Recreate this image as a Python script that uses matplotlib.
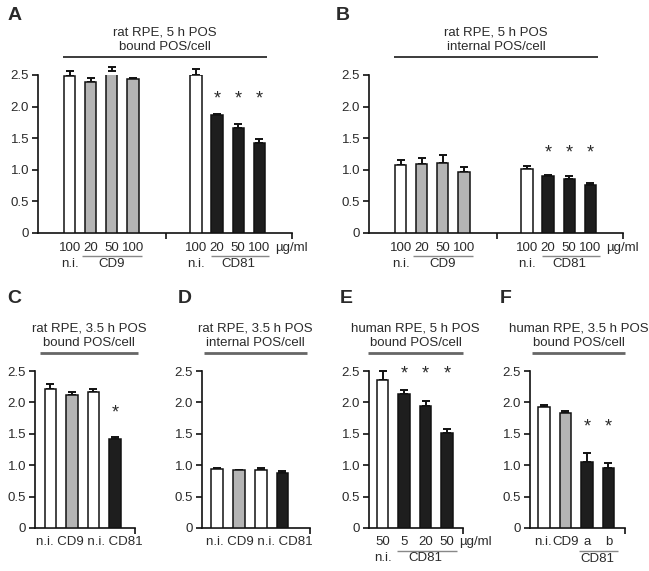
import matplotlib
matplotlib.use('Agg')
import matplotlib.pyplot as plt
from matplotlib.transforms import offset_copy

plt.rcParams['font.family'] = ['Liberation Sans', 'DejaVu Sans']
plt.rcParams['font.size'] = 9.5

W, H = 649, 571
TXT = '#2a2a2a'
EDGE = '#111111'
FILL = {'ni': 'white', 'CD9': '#b4b4b4', 'CD81': '#1e1e1e'}

# ---- data ----
a_kind = ['ni', 'CD9', 'CD9', 'CD9', 'ni', 'CD81', 'CD81', 'CD81']
a_dose = ['100', '20', '50', '100', '100', '20', '50', '100']
a_star = [0, 0, 0, 0, 0, 1, 1, 1]
a_vals = [2.48, 2.39, 2.56, 2.43, 2.50, 1.86, 1.66, 1.43]
a_err = [0.08, 0.06, 0.07, 0.03, 0.10, 0.03, 0.07, 0.05]

b_vals = [1.08, 1.09, 1.11, 0.97, 1.01, 0.90, 0.85, 0.76]
b_err = [0.07, 0.10, 0.13, 0.07, 0.05, 0.01, 0.05, 0.03]

cd_kind = ['ni', 'CD9', 'ni', 'CD81']
cd_labels = ['n.i.', 'CD9', 'n.i.', 'CD81']
c_star = [0, 0, 0, 1]
c_vals = [2.21, 2.12, 2.16, 1.41]
c_err = [0.08, 0.05, 0.05, 0.04]
d_star = [0, 0, 0, 0]
d_vals = [0.94, 0.92, 0.92, 0.88]
d_err = [0.01, 0.01, 0.03, 0.02]

e_kind = ['ni', 'CD81', 'CD81', 'CD81']
e_dose = ['50', '5', '20', '50']
e_star = [0, 1, 1, 1]
e_vals = [2.36, 2.13, 1.94, 1.51]
e_err = [0.14, 0.06, 0.08, 0.07]

f_kind = ['ni', 'CD9', 'CD81', 'CD81']
f_labels = ['n.i.', 'CD9', 'a', 'b']
f_star = [0, 0, 1, 1]
f_vals = [1.92, 1.83, 1.05, 0.96]
f_err = [0.04, 0.04, 0.15, 0.08]

yticks = [0, 0.5, 1.0, 1.5, 2.0, 2.5]
ylabels = ['0', '0.5', '1.0', '1.5', '2.0', '2.5']

fig = plt.figure(figsize=(W / 100, H / 100), dpi=100)


def make_ax(l, r, t, b, xlim, xt):
    ax = fig.add_axes([l / W, 1 - b / H, (r - l) / W, (b - t) / H])
    ax.set_xlim(*xlim)
    ax.set_ylim(0, 2.5)
    for s in ['top', 'right']:
        ax.spines[s].set_visible(False)
    for s in ['left', 'bottom']:
        ax.spines[s].set_linewidth(1.2)
        ax.spines[s].set_color(EDGE)
    ax.set_yticks(yticks)
    ax.set_yticklabels(ylabels, color=TXT)
    ax.set_xticks(xt)
    ax.set_xticklabels([])
    ax.tick_params(direction='out', length=4, width=1.2, color=EDGE, pad=2.5)
    return ax


def draw_bars(ax, xs, vals, errs, kinds, stars, star_y):
    ax.bar(xs, vals, width=0.54, color=[FILL[k] for k in kinds],
           edgecolor=EDGE, linewidth=1.1, zorder=3)
    eb = ax.errorbar(xs, vals, yerr=[[0] * len(vals), errs], fmt='none',
                     ecolor=EDGE, elinewidth=1.4, capsize=3, capthick=1.4,
                     zorder=2)
    for art in eb.get_children():
        art.set_clip_on(False)
    for x, s in zip(xs, stars):
        if s:
            ax.text(x, star_y, '*', ha='center', va='center', fontsize=13,
                    color=TXT)


def below(ax, x, dy, s, ha='center'):
    ax.annotate(s, xy=(x, 0), xycoords=('data', 'axes fraction'),
                xytext=(0, -dy * 0.72), textcoords='offset points',
                ha=ha, va='center', color=TXT, annotation_clip=False)


def hline(ax, x0, x1, dy, color, lw):
    tr = offset_copy(ax.get_xaxis_transform(), fig=fig, y=dy, units='dots')
    ax.plot([x0, x1], [0 if dy < 0 else 1] * 2, transform=tr, color=color,
            lw=lw, clip_on=False, solid_capstyle='butt')


def header(ax, x0, x1, text, color, lw):
    hline(ax, x0, x1, 18, color, lw)
    tr = offset_copy(ax.get_xaxis_transform(), fig=fig, y=22, units='dots')
    ax.text((x0 + x1) / 2, 1, text, transform=tr, ha='center', va='bottom',
            color=TXT, linespacing=1.25)


def letter(x, y, s):
    fig.text(x / W, 1 - y / H, s, fontsize=14, fontweight='bold', color=TXT,
             va='top', ha='left')


# ---- A and B ----
xs8 = [0, 1, 2, 3, 6, 7, 8, 9]
for l, r, vals, errs, sub, sy in [(38, 292, a_vals, a_err, 'bound POS/cell', 2.12),
                                  (369, 623, b_vals, b_err, 'internal POS/cell', 1.27)]:
    ax = make_ax(l, r, 75, 233, (-1.5, 10.55), [4.55, 10.55])
    draw_bars(ax, xs8, vals, errs, a_kind, a_star, sy)
    header(ax, -0.3, 9.35, 'rat RPE, 5 h POS\n' + sub, '#1a1a1a', 1.2)
    for x, d in zip(xs8, a_dose):
        below(ax, x, 15, d)
    below(ax, 0, 31, 'n.i.')
    below(ax, 6, 31, 'n.i.')
    below(ax, 2, 31, 'CD9')
    below(ax, 8, 31, 'CD81')
    hline(ax, 0.58, 3.45, -23, '#888888', 1.0)
    hline(ax, 6.7, 9.45, -23, '#888888', 1.0)
    ax.annotate('\u00b5g/ml', xy=(9, 0), xycoords=('data', 'axes fraction'),
                xytext=(11.5, -15 * 0.72), textcoords='offset points',
                ha='left', va='center', color=TXT, annotation_clip=False)

letter(8, 7, 'A')
letter(336, 7, 'B')

# ---- C and D ----
xs4 = [0, 1, 2, 3]
for l, r, xl, vals, errs, stars, sub, lx, lab_x in [
        (35, 135, (-0.72, 3.93), c_vals, c_err, c_star, 'bound POS/cell', (-0.49, 4.07), 1.81),
        (202, 310, (-0.7, 4.27), d_vals, d_err, d_star, 'internal POS/cell', (-0.6, 4.13), 1.95)]:
    ax = make_ax(l, r, 371, 528, xl, [xl[1]])
    draw_bars(ax, xs4, vals, errs, cd_kind, stars, 1.83)
    header(ax, lx[0], lx[1], 'rat RPE, 3.5 h POS\n' + sub, '#666666', 2.0)
    below(ax, lab_x, 14, ' '.join(cd_labels))

# ---- E ----
ax = make_ax(369, 463, 371, 528, (-0.63, 3.74), [3.74])
draw_bars(ax, xs4, e_vals, e_err, e_kind, e_star, 2.45)
header(ax, -0.67, 3.74, 'human RPE, 5 h POS\nbound POS/cell', '#666666', 2.0)
for x, d in zip(xs4, e_dose):
    below(ax, x, 14, d)
below(ax, 0, 30, 'n.i.')
below(ax, 2, 30, 'CD81')
hline(ax, 0.67, 3.45, -22.5, '#888888', 1.0)
ax.annotate('\u00b5g/ml', xy=(3, 0), xycoords=('data', 'axes fraction'),
            xytext=(8.5, -14 * 0.72), textcoords='offset points',
            ha='left', va='center', color=TXT, annotation_clip=False)

# ---- F ----
ax = make_ax(530, 625, 371, 528, (-0.65, 3.77), [3.77])
draw_bars(ax, xs4, f_vals, f_err, f_kind, f_star, 1.61)
header(ax, -0.56, 3.77, 'human RPE, 3.5 h POS\nbound POS/cell', '#666666', 2.0)
for x, s in zip(xs4, f_labels):
    below(ax, x - (0.06 if s == 'n.i.' else 0), 14, s)
below(ax, 2.5, 31, 'CD81')
hline(ax, 1.62, 3.45, -22.5, '#888888', 1.0)

letter(7, 290, 'C')
letter(178, 290, 'D')
letter(340, 290, 'E')
letter(500, 290, 'F')

fig.savefig('out.png', dpi=100, facecolor='white')
